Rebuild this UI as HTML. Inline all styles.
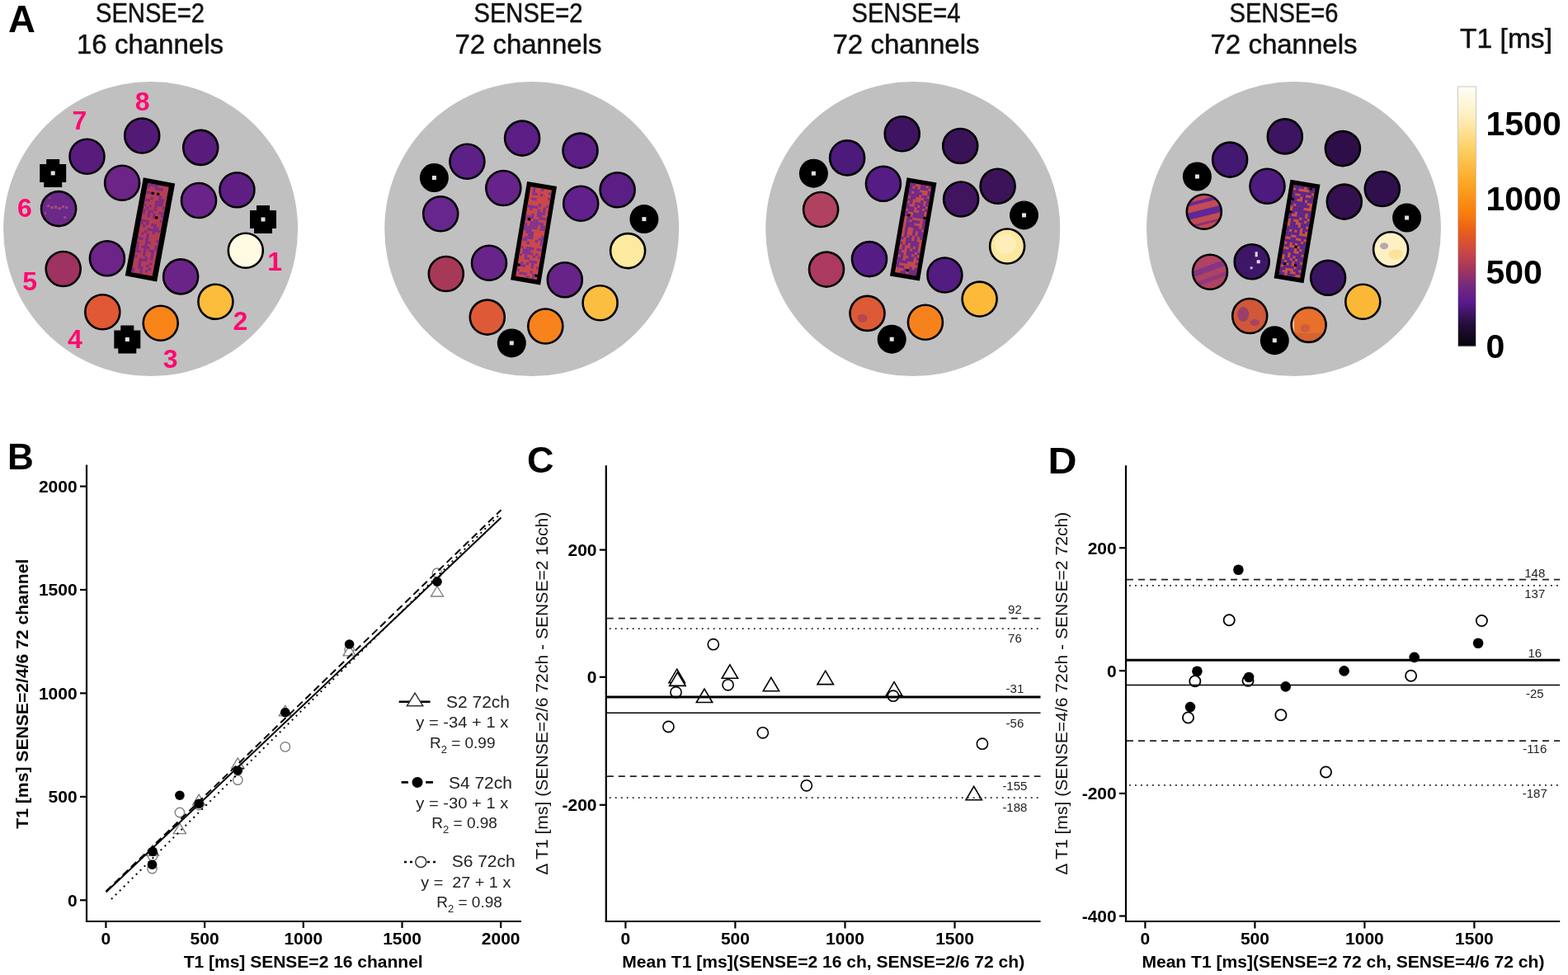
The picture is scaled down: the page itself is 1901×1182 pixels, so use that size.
<!DOCTYPE html>
<html><head><meta charset="utf-8"><title>Figure</title>
<style>html,body{margin:0;padding:0;background:#fff;}svg{display:block;}</style>
</head><body>
<svg width="1901" height="1182" viewBox="0 0 1901 1182">
<rect width="1901" height="1182" fill="#fff"/>
<circle cx="182.6" cy="277.6" r="178.5" fill="#c0c0c0"/>
<g transform="translate(182.0 278.4) rotate(10.5)"><rect x="-19.5" y="-60.5" width="39" height="121" fill="#000"/><rect x="-13" y="-55" width="26" height="110" fill="#b43e56"/><rect x="-13.00" y="-55.00" width="3.3" height="3.2" fill="#7c2c86"/><rect x="-13.00" y="-51.86" width="3.3" height="3.2" fill="#7c2c86"/><rect x="-13.00" y="-45.57" width="3.3" height="3.2" fill="#7c2c86"/><rect x="-13.00" y="-36.14" width="3.3" height="3.2" fill="#7c2c86"/><rect x="-13.00" y="-29.86" width="3.3" height="3.2" fill="#7c2c86"/><rect x="-13.00" y="-23.57" width="3.3" height="3.2" fill="#7c2c86"/><rect x="-13.00" y="-20.43" width="3.3" height="3.2" fill="#7c2c86"/><rect x="-13.00" y="-11.00" width="3.3" height="3.2" fill="#7c2c86"/><rect x="-13.00" y="-7.86" width="3.3" height="3.2" fill="#7c2c86"/><rect x="-13.00" y="11.00" width="3.3" height="3.2" fill="#7c2c86"/><rect x="-13.00" y="17.28" width="3.3" height="3.2" fill="#7c2c86"/><rect x="-13.00" y="20.43" width="3.3" height="3.2" fill="#7c2c86"/><rect x="-13.00" y="23.57" width="3.3" height="3.2" fill="#7c2c86"/><rect x="-13.00" y="26.71" width="3.3" height="3.2" fill="#7c2c86"/><rect x="-13.00" y="33.00" width="3.3" height="3.2" fill="#7c2c86"/><rect x="-13.00" y="48.71" width="3.3" height="3.2" fill="#7c2c86"/><rect x="-13.00" y="51.86" width="3.3" height="3.2" fill="#7c2c86"/><rect x="-9.75" y="-55.00" width="3.3" height="3.2" fill="#7c2c86"/><rect x="-9.75" y="-45.57" width="3.3" height="3.2" fill="#7c2c86"/><rect x="-9.75" y="-36.14" width="3.3" height="3.2" fill="#7c2c86"/><rect x="-9.75" y="-26.71" width="3.3" height="3.2" fill="#7c2c86"/><rect x="-9.75" y="-11.00" width="3.3" height="3.2" fill="#7c2c86"/><rect x="-9.75" y="-4.72" width="3.3" height="3.2" fill="#7c2c86"/><rect x="-9.75" y="4.71" width="3.3" height="3.2" fill="#7c2c86"/><rect x="-9.75" y="11.00" width="3.3" height="3.2" fill="#7c2c86"/><rect x="-9.75" y="26.71" width="3.3" height="3.2" fill="#7c2c86"/><rect x="-6.50" y="-55.00" width="3.3" height="3.2" fill="#7c2c86"/><rect x="-6.50" y="-45.57" width="3.3" height="3.2" fill="#000"/><rect x="-6.50" y="-39.29" width="3.3" height="3.2" fill="#7c2c86"/><rect x="-6.50" y="-29.86" width="3.3" height="3.2" fill="#7c2c86"/><rect x="-6.50" y="-23.57" width="3.3" height="3.2" fill="#7c2c86"/><rect x="-6.50" y="-20.43" width="3.3" height="3.2" fill="#7c2c86"/><rect x="-6.50" y="-17.29" width="3.3" height="3.2" fill="#7c2c86"/><rect x="-6.50" y="-11.00" width="3.3" height="3.2" fill="#7c2c86"/><rect x="-6.50" y="-7.86" width="3.3" height="3.2" fill="#7c2c86"/><rect x="-6.50" y="1.57" width="3.3" height="3.2" fill="#7c2c86"/><rect x="-6.50" y="20.43" width="3.3" height="3.2" fill="#7c2c86"/><rect x="-6.50" y="36.14" width="3.3" height="3.2" fill="#7c2c86"/><rect x="-6.50" y="39.28" width="3.3" height="3.2" fill="#7c2c86"/><rect x="-6.50" y="42.43" width="3.3" height="3.2" fill="#7c2c86"/><rect x="-6.50" y="45.57" width="3.3" height="3.2" fill="#7c2c86"/><rect x="-3.25" y="-55.00" width="3.3" height="3.2" fill="#7c2c86"/><rect x="-3.25" y="-51.86" width="3.3" height="3.2" fill="#7c2c86"/><rect x="-3.25" y="-23.57" width="3.3" height="3.2" fill="#7c2c86"/><rect x="-3.25" y="-1.57" width="3.3" height="3.2" fill="#7c2c86"/><rect x="-3.25" y="4.71" width="3.3" height="3.2" fill="#7c2c86"/><rect x="-3.25" y="7.86" width="3.3" height="3.2" fill="#7c2c86"/><rect x="-3.25" y="11.00" width="3.3" height="3.2" fill="#7c2c86"/><rect x="-3.25" y="14.14" width="3.3" height="3.2" fill="#7c2c86"/><rect x="-3.25" y="17.28" width="3.3" height="3.2" fill="#7c2c86"/><rect x="-3.25" y="20.43" width="3.3" height="3.2" fill="#7c2c86"/><rect x="-3.25" y="23.57" width="3.3" height="3.2" fill="#7c2c86"/><rect x="-3.25" y="26.71" width="3.3" height="3.2" fill="#7c2c86"/><rect x="-3.25" y="29.86" width="3.3" height="3.2" fill="#7c2c86"/><rect x="-3.25" y="36.14" width="3.3" height="3.2" fill="#7c2c86"/><rect x="-3.25" y="45.57" width="3.3" height="3.2" fill="#7c2c86"/><rect x="-3.25" y="48.71" width="3.3" height="3.2" fill="#7c2c86"/><rect x="-3.25" y="51.86" width="3.3" height="3.2" fill="#7c2c86"/><rect x="0.00" y="-51.86" width="3.3" height="3.2" fill="#7c2c86"/><rect x="0.00" y="-45.57" width="3.3" height="3.2" fill="#000"/><rect x="0.00" y="-36.14" width="3.3" height="3.2" fill="#7c2c86"/><rect x="0.00" y="-33.00" width="3.3" height="3.2" fill="#7c2c86"/><rect x="0.00" y="-29.86" width="3.3" height="3.2" fill="#7c2c86"/><rect x="0.00" y="-26.71" width="3.3" height="3.2" fill="#7c2c86"/><rect x="0.00" y="-20.43" width="3.3" height="3.2" fill="#7c2c86"/><rect x="0.00" y="-17.29" width="3.3" height="3.2" fill="#7c2c86"/><rect x="0.00" y="-7.86" width="3.3" height="3.2" fill="#7c2c86"/><rect x="0.00" y="-1.57" width="3.3" height="3.2" fill="#7c2c86"/><rect x="0.00" y="14.14" width="3.3" height="3.2" fill="#7c2c86"/><rect x="0.00" y="20.43" width="3.3" height="3.2" fill="#7c2c86"/><rect x="0.00" y="33.00" width="3.3" height="3.2" fill="#7c2c86"/><rect x="0.00" y="36.14" width="3.3" height="3.2" fill="#7c2c86"/><rect x="3.25" y="-51.86" width="3.3" height="3.2" fill="#7c2c86"/><rect x="3.25" y="-42.43" width="3.3" height="3.2" fill="#7c2c86"/><rect x="3.25" y="-39.29" width="3.3" height="3.2" fill="#7c2c86"/><rect x="3.25" y="-36.14" width="3.3" height="3.2" fill="#7c2c86"/><rect x="3.25" y="-33.00" width="3.3" height="3.2" fill="#7c2c86"/><rect x="3.25" y="-17.29" width="3.3" height="3.2" fill="#000"/><rect x="3.25" y="-7.86" width="3.3" height="3.2" fill="#7c2c86"/><rect x="3.25" y="-4.72" width="3.3" height="3.2" fill="#7c2c86"/><rect x="3.25" y="-1.57" width="3.3" height="3.2" fill="#7c2c86"/><rect x="3.25" y="1.57" width="3.3" height="3.2" fill="#7c2c86"/><rect x="3.25" y="23.57" width="3.3" height="3.2" fill="#7c2c86"/><rect x="3.25" y="42.43" width="3.3" height="3.2" fill="#7c2c86"/><rect x="3.25" y="48.71" width="3.3" height="3.2" fill="#7c2c86"/><rect x="6.50" y="-39.29" width="3.3" height="3.2" fill="#7c2c86"/><rect x="6.50" y="-36.14" width="3.3" height="3.2" fill="#7c2c86"/><rect x="6.50" y="-33.00" width="3.3" height="3.2" fill="#7c2c86"/><rect x="6.50" y="-23.57" width="3.3" height="3.2" fill="#7c2c86"/><rect x="6.50" y="-4.72" width="3.3" height="3.2" fill="#7c2c86"/><rect x="6.50" y="-1.57" width="3.3" height="3.2" fill="#7c2c86"/><rect x="6.50" y="23.57" width="3.3" height="3.2" fill="#7c2c86"/><rect x="6.50" y="26.71" width="3.3" height="3.2" fill="#7c2c86"/><rect x="6.50" y="29.86" width="3.3" height="3.2" fill="#7c2c86"/><rect x="6.50" y="33.00" width="3.3" height="3.2" fill="#7c2c86"/><rect x="6.50" y="39.28" width="3.3" height="3.2" fill="#7c2c86"/><rect x="6.50" y="45.57" width="3.3" height="3.2" fill="#7c2c86"/><rect x="9.75" y="-29.86" width="3.3" height="3.2" fill="#7c2c86"/><rect x="9.75" y="-23.57" width="3.3" height="3.2" fill="#7c2c86"/><rect x="9.75" y="-20.43" width="3.3" height="3.2" fill="#7c2c86"/><rect x="9.75" y="-14.14" width="3.3" height="3.2" fill="#7c2c86"/><rect x="9.75" y="-1.57" width="3.3" height="3.2" fill="#7c2c86"/><rect x="9.75" y="11.00" width="3.3" height="3.2" fill="#7c2c86"/><rect x="9.75" y="17.28" width="3.3" height="3.2" fill="#7c2c86"/><rect x="9.75" y="20.43" width="3.3" height="3.2" fill="#7c2c86"/></g>
<circle cx="172.2" cy="164.5" r="21" fill="#521a74" stroke="#000" stroke-width="2.6"/>
<circle cx="243.2" cy="178.9" r="21" fill="#581c7c" stroke="#000" stroke-width="2.6"/>
<circle cx="105.5" cy="189.8" r="21" fill="#581c7c" stroke="#000" stroke-width="2.6"/>
<circle cx="148.1" cy="221.8" r="21" fill="#6c2486" stroke="#000" stroke-width="2.6"/>
<circle cx="241" cy="243" r="21" fill="#6a2388" stroke="#000" stroke-width="2.6"/>
<circle cx="287.4" cy="230.2" r="21" fill="#5e1e84" stroke="#000" stroke-width="2.6"/>
<clipPath id="c71_253"><circle cx="71.1" cy="253.1" r="21"/></clipPath>
<circle cx="71.1" cy="253.1" r="21" fill="#6a2888"/>
<g clip-path="url(#c71_253)"><g transform="translate(71.1 253.1)"><g fill="#c45a78" opacity="0.65"><rect x="-14" y="-5" width="3" height="3"/><rect x="-10" y="-3" width="4" height="3"/><rect x="-5" y="-4" width="3" height="4"/><rect x="-1" y="-2" width="4" height="3"/><rect x="4" y="-4" width="3" height="3"/><rect x="8" y="-3" width="3" height="3"/><rect x="6" y="9" width="3" height="3"/><rect x="-12" y="-14" width="2" height="2"/><rect x="-17" y="4" width="2" height="3"/></g></g></g>
<circle cx="71.1" cy="253.1" r="21" fill="none" stroke="#000" stroke-width="2.6"/>
<circle cx="297.8" cy="303.8" r="21" fill="#fffbe2" stroke="#000" stroke-width="2.6"/>
<circle cx="76.7" cy="326" r="21" fill="#9e3260" stroke="#000" stroke-width="2.6"/>
<circle cx="129.9" cy="313.2" r="21" fill="#6c2488" stroke="#000" stroke-width="2.6"/>
<circle cx="219.1" cy="335.4" r="21" fill="#6a2488" stroke="#000" stroke-width="2.6"/>
<circle cx="261.4" cy="365.8" r="21" fill="#fcbc3c" stroke="#000" stroke-width="2.6"/>
<circle cx="124.3" cy="378.3" r="21" fill="#e05834" stroke="#000" stroke-width="2.6"/>
<circle cx="194.7" cy="391.8" r="21" fill="#f8841a" stroke="#000" stroke-width="2.6"/>
<path d="M56.2 192.9h16v6h8v22h-5v6h-22v-6h-5v-22h8z" fill="#000"/>
<rect x="61.7" y="207.4" width="5" height="5" fill="#e0e0e0"/>
<path d="M311 249h16v6h8v22h-5v6h-22v-6h-5v-22h8z" fill="#000"/>
<rect x="316.5" y="263.5" width="5" height="5" fill="#e0e0e0"/>
<path d="M146.3 394.5h16v6h8v22h-5v6h-22v-6h-5v-22h8z" fill="#000"/>
<rect x="151.8" y="409.0" width="5" height="5" fill="#e0e0e0"/>
<circle cx="644.7" cy="277.6" r="178.5" fill="#c0c0c0"/>
<g transform="translate(647.1 282.7) rotate(9.5)"><rect x="-18.25" y="-60.5" width="36.5" height="121" fill="#000"/><rect x="-13" y="-55" width="26" height="110" fill="#cc4848"/><rect x="-13.00" y="-33.00" width="3.3" height="3.2" fill="#7c3494"/><rect x="-13.00" y="-20.43" width="3.3" height="3.2" fill="#7c3494"/><rect x="-13.00" y="-17.29" width="3.3" height="3.2" fill="#7c3494"/><rect x="-13.00" y="-11.00" width="3.3" height="3.2" fill="#7c3494"/><rect x="-13.00" y="-7.86" width="3.3" height="3.2" fill="#7c3494"/><rect x="-13.00" y="-4.72" width="3.3" height="3.2" fill="#7c3494"/><rect x="-13.00" y="7.86" width="3.3" height="3.2" fill="#7c3494"/><rect x="-13.00" y="17.28" width="3.3" height="3.2" fill="#7c3494"/><rect x="-13.00" y="26.71" width="3.3" height="3.2" fill="#7c3494"/><rect x="-13.00" y="39.28" width="3.3" height="3.2" fill="#000"/><rect x="-13.00" y="45.57" width="3.3" height="3.2" fill="#7c3494"/><rect x="-9.75" y="-55.00" width="3.3" height="3.2" fill="#7c3494"/><rect x="-9.75" y="-51.86" width="3.3" height="3.2" fill="#7c3494"/><rect x="-9.75" y="-48.71" width="3.3" height="3.2" fill="#7c3494"/><rect x="-9.75" y="-42.43" width="3.3" height="3.2" fill="#7c3494"/><rect x="-9.75" y="-33.00" width="3.3" height="3.2" fill="#7c3494"/><rect x="-9.75" y="-29.86" width="3.3" height="3.2" fill="#7c3494"/><rect x="-9.75" y="-20.43" width="3.3" height="3.2" fill="#7c3494"/><rect x="-9.75" y="-17.29" width="3.3" height="3.2" fill="#000"/><rect x="-9.75" y="-7.86" width="3.3" height="3.2" fill="#7c3494"/><rect x="-9.75" y="-4.72" width="3.3" height="3.2" fill="#7c3494"/><rect x="-9.75" y="-1.57" width="3.3" height="3.2" fill="#7c3494"/><rect x="-9.75" y="4.71" width="3.3" height="3.2" fill="#7c3494"/><rect x="-9.75" y="7.86" width="3.3" height="3.2" fill="#7c3494"/><rect x="-9.75" y="20.43" width="3.3" height="3.2" fill="#7c3494"/><rect x="-9.75" y="23.57" width="3.3" height="3.2" fill="#7c3494"/><rect x="-9.75" y="36.14" width="3.3" height="3.2" fill="#7c3494"/><rect x="-9.75" y="39.28" width="3.3" height="3.2" fill="#7c3494"/><rect x="-9.75" y="48.71" width="3.3" height="3.2" fill="#7c3494"/><rect x="-6.50" y="-48.71" width="3.3" height="3.2" fill="#7c3494"/><rect x="-6.50" y="-42.43" width="3.3" height="3.2" fill="#7c3494"/><rect x="-6.50" y="-33.00" width="3.3" height="3.2" fill="#7c3494"/><rect x="-6.50" y="-23.57" width="3.3" height="3.2" fill="#7c3494"/><rect x="-6.50" y="-20.43" width="3.3" height="3.2" fill="#7c3494"/><rect x="-6.50" y="-14.14" width="3.3" height="3.2" fill="#7c3494"/><rect x="-6.50" y="-11.00" width="3.3" height="3.2" fill="#7c3494"/><rect x="-6.50" y="-7.86" width="3.3" height="3.2" fill="#7c3494"/><rect x="-6.50" y="-4.72" width="3.3" height="3.2" fill="#7c3494"/><rect x="-6.50" y="-1.57" width="3.3" height="3.2" fill="#7c3494"/><rect x="-6.50" y="1.57" width="3.3" height="3.2" fill="#7c3494"/><rect x="-6.50" y="4.71" width="3.3" height="3.2" fill="#7c3494"/><rect x="-6.50" y="11.00" width="3.3" height="3.2" fill="#7c3494"/><rect x="-6.50" y="17.28" width="3.3" height="3.2" fill="#7c3494"/><rect x="-6.50" y="20.43" width="3.3" height="3.2" fill="#7c3494"/><rect x="-6.50" y="23.57" width="3.3" height="3.2" fill="#7c3494"/><rect x="-6.50" y="26.71" width="3.3" height="3.2" fill="#7c3494"/><rect x="-6.50" y="29.86" width="3.3" height="3.2" fill="#7c3494"/><rect x="-6.50" y="39.28" width="3.3" height="3.2" fill="#7c3494"/><rect x="-6.50" y="48.71" width="3.3" height="3.2" fill="#7c3494"/><rect x="-3.25" y="-33.00" width="3.3" height="3.2" fill="#7c3494"/><rect x="-3.25" y="-17.29" width="3.3" height="3.2" fill="#7c3494"/><rect x="-3.25" y="-14.14" width="3.3" height="3.2" fill="#7c3494"/><rect x="-3.25" y="-11.00" width="3.3" height="3.2" fill="#7c3494"/><rect x="-3.25" y="-7.86" width="3.3" height="3.2" fill="#7c3494"/><rect x="-3.25" y="-1.57" width="3.3" height="3.2" fill="#7c3494"/><rect x="-3.25" y="1.57" width="3.3" height="3.2" fill="#7c3494"/><rect x="-3.25" y="4.71" width="3.3" height="3.2" fill="#7c3494"/><rect x="-3.25" y="17.28" width="3.3" height="3.2" fill="#7c3494"/><rect x="-3.25" y="20.43" width="3.3" height="3.2" fill="#7c3494"/><rect x="-3.25" y="23.57" width="3.3" height="3.2" fill="#7c3494"/><rect x="-3.25" y="29.86" width="3.3" height="3.2" fill="#7c3494"/><rect x="-3.25" y="36.14" width="3.3" height="3.2" fill="#7c3494"/><rect x="-3.25" y="48.71" width="3.3" height="3.2" fill="#7c3494"/><rect x="0.00" y="-55.00" width="3.3" height="3.2" fill="#7c3494"/><rect x="0.00" y="-48.71" width="3.3" height="3.2" fill="#7c3494"/><rect x="0.00" y="-36.14" width="3.3" height="3.2" fill="#7c3494"/><rect x="0.00" y="-29.86" width="3.3" height="3.2" fill="#7c3494"/><rect x="0.00" y="-26.71" width="3.3" height="3.2" fill="#7c3494"/><rect x="0.00" y="-23.57" width="3.3" height="3.2" fill="#7c3494"/><rect x="0.00" y="-17.29" width="3.3" height="3.2" fill="#7c3494"/><rect x="0.00" y="-14.14" width="3.3" height="3.2" fill="#7c3494"/><rect x="0.00" y="-11.00" width="3.3" height="3.2" fill="#7c3494"/><rect x="0.00" y="-7.86" width="3.3" height="3.2" fill="#7c3494"/><rect x="0.00" y="17.28" width="3.3" height="3.2" fill="#7c3494"/><rect x="0.00" y="23.57" width="3.3" height="3.2" fill="#7c3494"/><rect x="0.00" y="33.00" width="3.3" height="3.2" fill="#7c3494"/><rect x="0.00" y="51.86" width="3.3" height="3.2" fill="#7c3494"/><rect x="3.25" y="-26.71" width="3.3" height="3.2" fill="#7c3494"/><rect x="3.25" y="-23.57" width="3.3" height="3.2" fill="#7c3494"/><rect x="3.25" y="-20.43" width="3.3" height="3.2" fill="#7c3494"/><rect x="3.25" y="-14.14" width="3.3" height="3.2" fill="#7c3494"/><rect x="3.25" y="7.86" width="3.3" height="3.2" fill="#7c3494"/><rect x="3.25" y="26.71" width="3.3" height="3.2" fill="#7c3494"/><rect x="3.25" y="33.00" width="3.3" height="3.2" fill="#7c3494"/><rect x="3.25" y="36.14" width="3.3" height="3.2" fill="#7c3494"/><rect x="3.25" y="39.28" width="3.3" height="3.2" fill="#7c3494"/><rect x="3.25" y="45.57" width="3.3" height="3.2" fill="#7c3494"/><rect x="6.50" y="-33.00" width="3.3" height="3.2" fill="#7c3494"/><rect x="6.50" y="-29.86" width="3.3" height="3.2" fill="#7c3494"/><rect x="6.50" y="-26.71" width="3.3" height="3.2" fill="#7c3494"/><rect x="6.50" y="-20.43" width="3.3" height="3.2" fill="#7c3494"/><rect x="6.50" y="-14.14" width="3.3" height="3.2" fill="#7c3494"/><rect x="6.50" y="-11.00" width="3.3" height="3.2" fill="#7c3494"/><rect x="6.50" y="-7.86" width="3.3" height="3.2" fill="#7c3494"/><rect x="6.50" y="4.71" width="3.3" height="3.2" fill="#7c3494"/><rect x="6.50" y="17.28" width="3.3" height="3.2" fill="#7c3494"/><rect x="6.50" y="23.57" width="3.3" height="3.2" fill="#7c3494"/><rect x="6.50" y="33.00" width="3.3" height="3.2" fill="#7c3494"/><rect x="6.50" y="48.71" width="3.3" height="3.2" fill="#7c3494"/><rect x="6.50" y="51.86" width="3.3" height="3.2" fill="#7c3494"/><rect x="9.75" y="-51.86" width="3.3" height="3.2" fill="#7c3494"/><rect x="9.75" y="-45.57" width="3.3" height="3.2" fill="#7c3494"/><rect x="9.75" y="-36.14" width="3.3" height="3.2" fill="#7c3494"/><rect x="9.75" y="-20.43" width="3.3" height="3.2" fill="#7c3494"/><rect x="9.75" y="-11.00" width="3.3" height="3.2" fill="#7c3494"/><rect x="9.75" y="-7.86" width="3.3" height="3.2" fill="#7c3494"/><rect x="9.75" y="1.57" width="3.3" height="3.2" fill="#7c3494"/><rect x="9.75" y="4.71" width="3.3" height="3.2" fill="#7c3494"/><rect x="9.75" y="7.86" width="3.3" height="3.2" fill="#7c3494"/><rect x="9.75" y="11.00" width="3.3" height="3.2" fill="#7c3494"/><rect x="9.75" y="17.28" width="3.3" height="3.2" fill="#7c3494"/><rect x="9.75" y="26.71" width="3.3" height="3.2" fill="#7c3494"/><rect x="9.75" y="39.28" width="3.3" height="3.2" fill="#7c3494"/><rect x="9.75" y="48.71" width="3.3" height="3.2" fill="#000"/></g>
<circle cx="633.1" cy="167.6" r="21" fill="#5a1e84" stroke="#000" stroke-width="2.6"/>
<circle cx="703.5" cy="182.6" r="21" fill="#5a1e84" stroke="#000" stroke-width="2.6"/>
<circle cx="566.4" cy="195.8" r="21" fill="#5c2086" stroke="#000" stroke-width="2.6"/>
<circle cx="610.3" cy="228" r="21" fill="#66238a" stroke="#000" stroke-width="2.6"/>
<circle cx="704.2" cy="246.8" r="21" fill="#62208c" stroke="#000" stroke-width="2.6"/>
<circle cx="748.6" cy="230.2" r="21" fill="#5a1e84" stroke="#000" stroke-width="2.6"/>
<circle cx="534.2" cy="259.3" r="21" fill="#66268c" stroke="#000" stroke-width="2.6"/>
<circle cx="761.1" cy="304.1" r="21" fill="#fdeaa0" stroke="#000" stroke-width="2.6"/>
<circle cx="540.8" cy="332" r="21" fill="#a83858" stroke="#000" stroke-width="2.6"/>
<circle cx="593" cy="318.8" r="21" fill="#682488" stroke="#000" stroke-width="2.6"/>
<circle cx="684.8" cy="339.2" r="21" fill="#662488" stroke="#000" stroke-width="2.6"/>
<circle cx="727.6" cy="367.3" r="21" fill="#fcbe40" stroke="#000" stroke-width="2.6"/>
<circle cx="590.8" cy="384.6" r="21" fill="#de5a36" stroke="#000" stroke-width="2.6"/>
<circle cx="661.3" cy="395.5" r="21" fill="#f8821c" stroke="#000" stroke-width="2.6"/>
<circle cx="526.4" cy="215.5" r="17.5" fill="#000"/>
<rect x="523.9" y="213.0" width="5" height="5" fill="#e0e0e0"/>
<circle cx="780.9" cy="265.6" r="17.5" fill="#000"/>
<rect x="778.4" y="263.1" width="5" height="5" fill="#e0e0e0"/>
<circle cx="620.3" cy="415.9" r="17.5" fill="#000"/>
<rect x="617.8" y="413.4" width="5" height="5" fill="#e0e0e0"/>
<circle cx="1106.7" cy="277.6" r="178.5" fill="#c0c0c0"/>
<g transform="translate(1107.2 277.9) rotate(9.8)"><rect x="-18.25" y="-60.5" width="36.5" height="121" fill="#000"/><rect x="-13" y="-55" width="26" height="110" fill="#c24a4c"/><rect x="-13.00" y="-55.00" width="3.3" height="3.2" fill="#6c2a8c"/><rect x="-13.00" y="-51.86" width="3.3" height="3.2" fill="#6c2a8c"/><rect x="-13.00" y="-48.71" width="3.3" height="3.2" fill="#6c2a8c"/><rect x="-13.00" y="-45.57" width="3.3" height="3.2" fill="#6c2a8c"/><rect x="-13.00" y="-42.43" width="3.3" height="3.2" fill="#6c2a8c"/><rect x="-13.00" y="-36.14" width="3.3" height="3.2" fill="#6c2a8c"/><rect x="-13.00" y="-29.86" width="3.3" height="3.2" fill="#6c2a8c"/><rect x="-13.00" y="-26.71" width="3.3" height="3.2" fill="#6c2a8c"/><rect x="-13.00" y="-20.43" width="3.3" height="3.2" fill="#6c2a8c"/><rect x="-13.00" y="-17.29" width="3.3" height="3.2" fill="#6c2a8c"/><rect x="-13.00" y="11.00" width="3.3" height="3.2" fill="#6c2a8c"/><rect x="-13.00" y="17.28" width="3.3" height="3.2" fill="#6c2a8c"/><rect x="-13.00" y="26.71" width="3.3" height="3.2" fill="#6c2a8c"/><rect x="-13.00" y="29.86" width="3.3" height="3.2" fill="#6c2a8c"/><rect x="-13.00" y="36.14" width="3.3" height="3.2" fill="#6c2a8c"/><rect x="-13.00" y="39.28" width="3.3" height="3.2" fill="#6c2a8c"/><rect x="-13.00" y="42.43" width="3.3" height="3.2" fill="#6c2a8c"/><rect x="-13.00" y="45.57" width="3.3" height="3.2" fill="#6c2a8c"/><rect x="-9.75" y="-55.00" width="3.3" height="3.2" fill="#6c2a8c"/><rect x="-9.75" y="-48.71" width="3.3" height="3.2" fill="#6c2a8c"/><rect x="-9.75" y="-42.43" width="3.3" height="3.2" fill="#6c2a8c"/><rect x="-9.75" y="-39.29" width="3.3" height="3.2" fill="#6c2a8c"/><rect x="-9.75" y="-36.14" width="3.3" height="3.2" fill="#6c2a8c"/><rect x="-9.75" y="-33.00" width="3.3" height="3.2" fill="#6c2a8c"/><rect x="-9.75" y="-26.71" width="3.3" height="3.2" fill="#6c2a8c"/><rect x="-9.75" y="-23.57" width="3.3" height="3.2" fill="#6c2a8c"/><rect x="-9.75" y="-17.29" width="3.3" height="3.2" fill="#000"/><rect x="-9.75" y="-14.14" width="3.3" height="3.2" fill="#6c2a8c"/><rect x="-9.75" y="-11.00" width="3.3" height="3.2" fill="#6c2a8c"/><rect x="-9.75" y="-7.86" width="3.3" height="3.2" fill="#6c2a8c"/><rect x="-9.75" y="-4.72" width="3.3" height="3.2" fill="#6c2a8c"/><rect x="-9.75" y="-1.57" width="3.3" height="3.2" fill="#6c2a8c"/><rect x="-9.75" y="1.57" width="3.3" height="3.2" fill="#6c2a8c"/><rect x="-9.75" y="4.71" width="3.3" height="3.2" fill="#6c2a8c"/><rect x="-9.75" y="7.86" width="3.3" height="3.2" fill="#6c2a8c"/><rect x="-9.75" y="20.43" width="3.3" height="3.2" fill="#6c2a8c"/><rect x="-9.75" y="23.57" width="3.3" height="3.2" fill="#6c2a8c"/><rect x="-9.75" y="29.86" width="3.3" height="3.2" fill="#6c2a8c"/><rect x="-9.75" y="33.00" width="3.3" height="3.2" fill="#6c2a8c"/><rect x="-9.75" y="36.14" width="3.3" height="3.2" fill="#6c2a8c"/><rect x="-9.75" y="39.28" width="3.3" height="3.2" fill="#6c2a8c"/><rect x="-9.75" y="45.57" width="3.3" height="3.2" fill="#6c2a8c"/><rect x="-6.50" y="-51.86" width="3.3" height="3.2" fill="#6c2a8c"/><rect x="-6.50" y="-48.71" width="3.3" height="3.2" fill="#6c2a8c"/><rect x="-6.50" y="-45.57" width="3.3" height="3.2" fill="#6c2a8c"/><rect x="-6.50" y="-42.43" width="3.3" height="3.2" fill="#6c2a8c"/><rect x="-6.50" y="-39.29" width="3.3" height="3.2" fill="#6c2a8c"/><rect x="-6.50" y="-26.71" width="3.3" height="3.2" fill="#6c2a8c"/><rect x="-6.50" y="-23.57" width="3.3" height="3.2" fill="#6c2a8c"/><rect x="-6.50" y="-14.14" width="3.3" height="3.2" fill="#6c2a8c"/><rect x="-6.50" y="-7.86" width="3.3" height="3.2" fill="#6c2a8c"/><rect x="-6.50" y="-4.72" width="3.3" height="3.2" fill="#6c2a8c"/><rect x="-6.50" y="11.00" width="3.3" height="3.2" fill="#6c2a8c"/><rect x="-6.50" y="14.14" width="3.3" height="3.2" fill="#6c2a8c"/><rect x="-6.50" y="17.28" width="3.3" height="3.2" fill="#6c2a8c"/><rect x="-6.50" y="39.28" width="3.3" height="3.2" fill="#6c2a8c"/><rect x="-6.50" y="45.57" width="3.3" height="3.2" fill="#6c2a8c"/><rect x="-6.50" y="51.86" width="3.3" height="3.2" fill="#6c2a8c"/><rect x="-3.25" y="-48.71" width="3.3" height="3.2" fill="#6c2a8c"/><rect x="-3.25" y="-45.57" width="3.3" height="3.2" fill="#6c2a8c"/><rect x="-3.25" y="-42.43" width="3.3" height="3.2" fill="#6c2a8c"/><rect x="-3.25" y="-33.00" width="3.3" height="3.2" fill="#6c2a8c"/><rect x="-3.25" y="-29.86" width="3.3" height="3.2" fill="#6c2a8c"/><rect x="-3.25" y="-20.43" width="3.3" height="3.2" fill="#6c2a8c"/><rect x="-3.25" y="-17.29" width="3.3" height="3.2" fill="#6c2a8c"/><rect x="-3.25" y="-11.00" width="3.3" height="3.2" fill="#6c2a8c"/><rect x="-3.25" y="-7.86" width="3.3" height="3.2" fill="#6c2a8c"/><rect x="-3.25" y="-4.72" width="3.3" height="3.2" fill="#6c2a8c"/><rect x="-3.25" y="7.86" width="3.3" height="3.2" fill="#6c2a8c"/><rect x="-3.25" y="11.00" width="3.3" height="3.2" fill="#6c2a8c"/><rect x="-3.25" y="14.14" width="3.3" height="3.2" fill="#6c2a8c"/><rect x="-3.25" y="23.57" width="3.3" height="3.2" fill="#6c2a8c"/><rect x="-3.25" y="26.71" width="3.3" height="3.2" fill="#6c2a8c"/><rect x="-3.25" y="29.86" width="3.3" height="3.2" fill="#6c2a8c"/><rect x="-3.25" y="36.14" width="3.3" height="3.2" fill="#6c2a8c"/><rect x="-3.25" y="39.28" width="3.3" height="3.2" fill="#6c2a8c"/><rect x="-3.25" y="48.71" width="3.3" height="3.2" fill="#6c2a8c"/><rect x="-3.25" y="51.86" width="3.3" height="3.2" fill="#6c2a8c"/><rect x="0.00" y="-55.00" width="3.3" height="3.2" fill="#6c2a8c"/><rect x="0.00" y="-51.86" width="3.3" height="3.2" fill="#6c2a8c"/><rect x="0.00" y="-45.57" width="3.3" height="3.2" fill="#6c2a8c"/><rect x="0.00" y="-33.00" width="3.3" height="3.2" fill="#6c2a8c"/><rect x="0.00" y="-26.71" width="3.3" height="3.2" fill="#6c2a8c"/><rect x="0.00" y="-20.43" width="3.3" height="3.2" fill="#6c2a8c"/><rect x="0.00" y="-17.29" width="3.3" height="3.2" fill="#6c2a8c"/><rect x="0.00" y="-11.00" width="3.3" height="3.2" fill="#6c2a8c"/><rect x="0.00" y="-4.72" width="3.3" height="3.2" fill="#6c2a8c"/><rect x="0.00" y="-1.57" width="3.3" height="3.2" fill="#6c2a8c"/><rect x="0.00" y="1.57" width="3.3" height="3.2" fill="#6c2a8c"/><rect x="0.00" y="4.71" width="3.3" height="3.2" fill="#6c2a8c"/><rect x="0.00" y="14.14" width="3.3" height="3.2" fill="#6c2a8c"/><rect x="0.00" y="17.28" width="3.3" height="3.2" fill="#6c2a8c"/><rect x="0.00" y="20.43" width="3.3" height="3.2" fill="#6c2a8c"/><rect x="0.00" y="26.71" width="3.3" height="3.2" fill="#6c2a8c"/><rect x="0.00" y="29.86" width="3.3" height="3.2" fill="#6c2a8c"/><rect x="0.00" y="33.00" width="3.3" height="3.2" fill="#6c2a8c"/><rect x="0.00" y="36.14" width="3.3" height="3.2" fill="#6c2a8c"/><rect x="0.00" y="48.71" width="3.3" height="3.2" fill="#000"/><rect x="3.25" y="-55.00" width="3.3" height="3.2" fill="#6c2a8c"/><rect x="3.25" y="-51.86" width="3.3" height="3.2" fill="#6c2a8c"/><rect x="3.25" y="-42.43" width="3.3" height="3.2" fill="#6c2a8c"/><rect x="3.25" y="-36.14" width="3.3" height="3.2" fill="#6c2a8c"/><rect x="3.25" y="-33.00" width="3.3" height="3.2" fill="#6c2a8c"/><rect x="3.25" y="-29.86" width="3.3" height="3.2" fill="#6c2a8c"/><rect x="3.25" y="-26.71" width="3.3" height="3.2" fill="#6c2a8c"/><rect x="3.25" y="-23.57" width="3.3" height="3.2" fill="#6c2a8c"/><rect x="3.25" y="-20.43" width="3.3" height="3.2" fill="#6c2a8c"/><rect x="3.25" y="-17.29" width="3.3" height="3.2" fill="#6c2a8c"/><rect x="3.25" y="-11.00" width="3.3" height="3.2" fill="#6c2a8c"/><rect x="3.25" y="-4.72" width="3.3" height="3.2" fill="#6c2a8c"/><rect x="3.25" y="-1.57" width="3.3" height="3.2" fill="#6c2a8c"/><rect x="3.25" y="7.86" width="3.3" height="3.2" fill="#6c2a8c"/><rect x="3.25" y="11.00" width="3.3" height="3.2" fill="#6c2a8c"/><rect x="3.25" y="14.14" width="3.3" height="3.2" fill="#6c2a8c"/><rect x="3.25" y="17.28" width="3.3" height="3.2" fill="#6c2a8c"/><rect x="3.25" y="23.57" width="3.3" height="3.2" fill="#6c2a8c"/><rect x="3.25" y="26.71" width="3.3" height="3.2" fill="#6c2a8c"/><rect x="3.25" y="33.00" width="3.3" height="3.2" fill="#6c2a8c"/><rect x="3.25" y="36.14" width="3.3" height="3.2" fill="#6c2a8c"/><rect x="3.25" y="45.57" width="3.3" height="3.2" fill="#6c2a8c"/><rect x="3.25" y="48.71" width="3.3" height="3.2" fill="#6c2a8c"/><rect x="3.25" y="51.86" width="3.3" height="3.2" fill="#6c2a8c"/><rect x="6.50" y="-51.86" width="3.3" height="3.2" fill="#6c2a8c"/><rect x="6.50" y="-42.43" width="3.3" height="3.2" fill="#6c2a8c"/><rect x="6.50" y="-39.29" width="3.3" height="3.2" fill="#6c2a8c"/><rect x="6.50" y="-29.86" width="3.3" height="3.2" fill="#6c2a8c"/><rect x="6.50" y="-23.57" width="3.3" height="3.2" fill="#6c2a8c"/><rect x="6.50" y="-20.43" width="3.3" height="3.2" fill="#6c2a8c"/><rect x="6.50" y="-17.29" width="3.3" height="3.2" fill="#6c2a8c"/><rect x="6.50" y="-1.57" width="3.3" height="3.2" fill="#6c2a8c"/><rect x="6.50" y="1.57" width="3.3" height="3.2" fill="#6c2a8c"/><rect x="6.50" y="4.71" width="3.3" height="3.2" fill="#6c2a8c"/><rect x="6.50" y="14.14" width="3.3" height="3.2" fill="#6c2a8c"/><rect x="6.50" y="17.28" width="3.3" height="3.2" fill="#6c2a8c"/><rect x="6.50" y="20.43" width="3.3" height="3.2" fill="#6c2a8c"/><rect x="6.50" y="23.57" width="3.3" height="3.2" fill="#6c2a8c"/><rect x="6.50" y="29.86" width="3.3" height="3.2" fill="#6c2a8c"/><rect x="6.50" y="48.71" width="3.3" height="3.2" fill="#6c2a8c"/><rect x="6.50" y="51.86" width="3.3" height="3.2" fill="#6c2a8c"/><rect x="9.75" y="-55.00" width="3.3" height="3.2" fill="#6c2a8c"/><rect x="9.75" y="-48.71" width="3.3" height="3.2" fill="#6c2a8c"/><rect x="9.75" y="-45.57" width="3.3" height="3.2" fill="#6c2a8c"/><rect x="9.75" y="-39.29" width="3.3" height="3.2" fill="#6c2a8c"/><rect x="9.75" y="-36.14" width="3.3" height="3.2" fill="#6c2a8c"/><rect x="9.75" y="-33.00" width="3.3" height="3.2" fill="#6c2a8c"/><rect x="9.75" y="-26.71" width="3.3" height="3.2" fill="#6c2a8c"/><rect x="9.75" y="-17.29" width="3.3" height="3.2" fill="#000"/><rect x="9.75" y="-14.14" width="3.3" height="3.2" fill="#6c2a8c"/><rect x="9.75" y="-11.00" width="3.3" height="3.2" fill="#6c2a8c"/><rect x="9.75" y="-7.86" width="3.3" height="3.2" fill="#6c2a8c"/><rect x="9.75" y="-4.72" width="3.3" height="3.2" fill="#6c2a8c"/><rect x="9.75" y="1.57" width="3.3" height="3.2" fill="#6c2a8c"/><rect x="9.75" y="4.71" width="3.3" height="3.2" fill="#6c2a8c"/><rect x="9.75" y="7.86" width="3.3" height="3.2" fill="#6c2a8c"/><rect x="9.75" y="26.71" width="3.3" height="3.2" fill="#6c2a8c"/><rect x="9.75" y="33.00" width="3.3" height="3.2" fill="#6c2a8c"/><rect x="9.75" y="39.28" width="3.3" height="3.2" fill="#6c2a8c"/><rect x="9.75" y="45.57" width="3.3" height="3.2" fill="#6c2a8c"/><rect x="9.75" y="48.71" width="3.3" height="3.2" fill="#6c2a8c"/><rect x="9.75" y="51.86" width="3.3" height="3.2" fill="#6c2a8c"/></g>
<circle cx="1093.7" cy="162.3" r="21" fill="#3e1460" stroke="#000" stroke-width="2.6"/>
<circle cx="1164.2" cy="177" r="21" fill="#3a1258" stroke="#000" stroke-width="2.6"/>
<circle cx="1027.1" cy="191.4" r="21" fill="#4c1a7a" stroke="#000" stroke-width="2.6"/>
<circle cx="1070.9" cy="222.7" r="21" fill="#541c84" stroke="#000" stroke-width="2.6"/>
<circle cx="1165.1" cy="241.5" r="21" fill="#40145e" stroke="#000" stroke-width="2.6"/>
<circle cx="1209.6" cy="225.8" r="21" fill="#3c1358" stroke="#000" stroke-width="2.6"/>
<circle cx="995.1" cy="254" r="21" fill="#b04260" stroke="#000" stroke-width="2.6"/>
<clipPath id="c1221_298"><circle cx="1221.1" cy="298.5" r="21"/></clipPath>
<circle cx="1221.1" cy="298.5" r="21" fill="#fde8a0"/>
<g clip-path="url(#c1221_298)"><g transform="translate(1221.1 298.5)"><ellipse cx="-2" cy="-3" rx="13" ry="12" fill="#fff4d0" opacity="0.55"/></g></g>
<circle cx="1221.1" cy="298.5" r="21" fill="none" stroke="#000" stroke-width="2.6"/>
<circle cx="1002" cy="326.6" r="21" fill="#ac3a60" stroke="#000" stroke-width="2.6"/>
<circle cx="1054" cy="314.1" r="21" fill="#561c86" stroke="#000" stroke-width="2.6"/>
<circle cx="1145.4" cy="333.5" r="21" fill="#521c80" stroke="#000" stroke-width="2.6"/>
<circle cx="1187.6" cy="362.6" r="21" fill="#fcba38" stroke="#000" stroke-width="2.6"/>
<clipPath id="c1051_379"><circle cx="1051.5" cy="379.9" r="21"/></clipPath>
<circle cx="1051.5" cy="379.9" r="21" fill="#dc5a36"/>
<g clip-path="url(#c1051_379)"><g transform="translate(1051.5 379.9)"><ellipse cx="-6" cy="6" rx="6" ry="5" fill="#9a3a60" opacity="0.6"/></g></g>
<circle cx="1051.5" cy="379.9" r="21" fill="none" stroke="#000" stroke-width="2.6"/>
<circle cx="1121.9" cy="390.8" r="21" fill="#f6821e" stroke="#000" stroke-width="2.6"/>
<circle cx="986.4" cy="210.2" r="17.5" fill="#000"/>
<rect x="983.9" y="207.7" width="5" height="5" fill="#e0e0e0"/>
<circle cx="1241.5" cy="260.9" r="17.5" fill="#000"/>
<rect x="1239.0" y="258.4" width="5" height="5" fill="#e0e0e0"/>
<circle cx="1081.2" cy="411.2" r="17.5" fill="#000"/>
<rect x="1078.7" y="408.7" width="5" height="5" fill="#e0e0e0"/>
<circle cx="1568.5" cy="277.6" r="178.5" fill="#c0c0c0"/>
<g transform="translate(1572.5 280.5) rotate(9.5)"><rect x="-18.25" y="-60.5" width="36.5" height="121" fill="#000"/><rect x="-13" y="-55" width="26" height="110" fill="#c8543e"/><rect x="-13.00" y="-55.00" width="3.3" height="3.2" fill="#582490"/><rect x="-13.00" y="-48.71" width="3.3" height="3.2" fill="#582490"/><rect x="-13.00" y="-45.57" width="3.3" height="3.2" fill="#582490"/><rect x="-13.00" y="-42.43" width="3.3" height="3.2" fill="#582490"/><rect x="-13.00" y="-39.29" width="3.3" height="3.2" fill="#000"/><rect x="-13.00" y="-36.14" width="3.3" height="3.2" fill="#582490"/><rect x="-13.00" y="-33.00" width="3.3" height="3.2" fill="#582490"/><rect x="-13.00" y="-23.57" width="3.3" height="3.2" fill="#000"/><rect x="-13.00" y="-20.43" width="3.3" height="3.2" fill="#582490"/><rect x="-13.00" y="-17.29" width="3.3" height="3.2" fill="#582490"/><rect x="-13.00" y="-4.72" width="3.3" height="3.2" fill="#582490"/><rect x="-13.00" y="-1.57" width="3.3" height="3.2" fill="#582490"/><rect x="-13.00" y="1.57" width="3.3" height="3.2" fill="#582490"/><rect x="-13.00" y="4.71" width="3.3" height="3.2" fill="#582490"/><rect x="-13.00" y="11.00" width="3.3" height="3.2" fill="#582490"/><rect x="-13.00" y="17.28" width="3.3" height="3.2" fill="#582490"/><rect x="-13.00" y="23.57" width="3.3" height="3.2" fill="#582490"/><rect x="-13.00" y="26.71" width="3.3" height="3.2" fill="#582490"/><rect x="-13.00" y="36.14" width="3.3" height="3.2" fill="#582490"/><rect x="-13.00" y="39.28" width="3.3" height="3.2" fill="#582490"/><rect x="-13.00" y="45.57" width="3.3" height="3.2" fill="#582490"/><rect x="-13.00" y="48.71" width="3.3" height="3.2" fill="#582490"/><rect x="-13.00" y="51.86" width="3.3" height="3.2" fill="#582490"/><rect x="-9.75" y="-55.00" width="3.3" height="3.2" fill="#582490"/><rect x="-9.75" y="-51.86" width="3.3" height="3.2" fill="#582490"/><rect x="-9.75" y="-48.71" width="3.3" height="3.2" fill="#582490"/><rect x="-9.75" y="-42.43" width="3.3" height="3.2" fill="#582490"/><rect x="-9.75" y="-39.29" width="3.3" height="3.2" fill="#582490"/><rect x="-9.75" y="-36.14" width="3.3" height="3.2" fill="#582490"/><rect x="-9.75" y="-29.86" width="3.3" height="3.2" fill="#582490"/><rect x="-9.75" y="-26.71" width="3.3" height="3.2" fill="#582490"/><rect x="-9.75" y="-23.57" width="3.3" height="3.2" fill="#582490"/><rect x="-9.75" y="-17.29" width="3.3" height="3.2" fill="#582490"/><rect x="-9.75" y="-14.14" width="3.3" height="3.2" fill="#582490"/><rect x="-9.75" y="-11.00" width="3.3" height="3.2" fill="#582490"/><rect x="-9.75" y="-7.86" width="3.3" height="3.2" fill="#582490"/><rect x="-9.75" y="-4.72" width="3.3" height="3.2" fill="#582490"/><rect x="-9.75" y="1.57" width="3.3" height="3.2" fill="#582490"/><rect x="-9.75" y="4.71" width="3.3" height="3.2" fill="#582490"/><rect x="-9.75" y="11.00" width="3.3" height="3.2" fill="#582490"/><rect x="-9.75" y="14.14" width="3.3" height="3.2" fill="#582490"/><rect x="-9.75" y="17.28" width="3.3" height="3.2" fill="#582490"/><rect x="-9.75" y="23.57" width="3.3" height="3.2" fill="#582490"/><rect x="-9.75" y="26.71" width="3.3" height="3.2" fill="#582490"/><rect x="-9.75" y="29.86" width="3.3" height="3.2" fill="#582490"/><rect x="-9.75" y="33.00" width="3.3" height="3.2" fill="#582490"/><rect x="-9.75" y="39.28" width="3.3" height="3.2" fill="#000"/><rect x="-9.75" y="42.43" width="3.3" height="3.2" fill="#582490"/><rect x="-9.75" y="45.57" width="3.3" height="3.2" fill="#582490"/><rect x="-9.75" y="51.86" width="3.3" height="3.2" fill="#582490"/><rect x="-6.50" y="-55.00" width="3.3" height="3.2" fill="#582490"/><rect x="-6.50" y="-48.71" width="3.3" height="3.2" fill="#582490"/><rect x="-6.50" y="-42.43" width="3.3" height="3.2" fill="#582490"/><rect x="-6.50" y="-36.14" width="3.3" height="3.2" fill="#582490"/><rect x="-6.50" y="-33.00" width="3.3" height="3.2" fill="#582490"/><rect x="-6.50" y="-29.86" width="3.3" height="3.2" fill="#582490"/><rect x="-6.50" y="-26.71" width="3.3" height="3.2" fill="#582490"/><rect x="-6.50" y="-17.29" width="3.3" height="3.2" fill="#582490"/><rect x="-6.50" y="-11.00" width="3.3" height="3.2" fill="#582490"/><rect x="-6.50" y="-7.86" width="3.3" height="3.2" fill="#582490"/><rect x="-6.50" y="-4.72" width="3.3" height="3.2" fill="#582490"/><rect x="-6.50" y="-1.57" width="3.3" height="3.2" fill="#582490"/><rect x="-6.50" y="1.57" width="3.3" height="3.2" fill="#582490"/><rect x="-6.50" y="7.86" width="3.3" height="3.2" fill="#582490"/><rect x="-6.50" y="11.00" width="3.3" height="3.2" fill="#582490"/><rect x="-6.50" y="20.43" width="3.3" height="3.2" fill="#582490"/><rect x="-6.50" y="23.57" width="3.3" height="3.2" fill="#582490"/><rect x="-6.50" y="33.00" width="3.3" height="3.2" fill="#582490"/><rect x="-6.50" y="36.14" width="3.3" height="3.2" fill="#582490"/><rect x="-6.50" y="42.43" width="3.3" height="3.2" fill="#582490"/><rect x="-3.25" y="-55.00" width="3.3" height="3.2" fill="#582490"/><rect x="-3.25" y="-48.71" width="3.3" height="3.2" fill="#582490"/><rect x="-3.25" y="-45.57" width="3.3" height="3.2" fill="#582490"/><rect x="-3.25" y="-36.14" width="3.3" height="3.2" fill="#582490"/><rect x="-3.25" y="-33.00" width="3.3" height="3.2" fill="#582490"/><rect x="-3.25" y="-29.86" width="3.3" height="3.2" fill="#582490"/><rect x="-3.25" y="-26.71" width="3.3" height="3.2" fill="#582490"/><rect x="-3.25" y="-23.57" width="3.3" height="3.2" fill="#582490"/><rect x="-3.25" y="-20.43" width="3.3" height="3.2" fill="#582490"/><rect x="-3.25" y="-17.29" width="3.3" height="3.2" fill="#582490"/><rect x="-3.25" y="-7.86" width="3.3" height="3.2" fill="#582490"/><rect x="-3.25" y="-4.72" width="3.3" height="3.2" fill="#582490"/><rect x="-3.25" y="1.57" width="3.3" height="3.2" fill="#582490"/><rect x="-3.25" y="7.86" width="3.3" height="3.2" fill="#582490"/><rect x="-3.25" y="11.00" width="3.3" height="3.2" fill="#582490"/><rect x="-3.25" y="14.14" width="3.3" height="3.2" fill="#582490"/><rect x="-3.25" y="20.43" width="3.3" height="3.2" fill="#582490"/><rect x="-3.25" y="23.57" width="3.3" height="3.2" fill="#582490"/><rect x="-3.25" y="26.71" width="3.3" height="3.2" fill="#582490"/><rect x="-3.25" y="29.86" width="3.3" height="3.2" fill="#582490"/><rect x="-3.25" y="36.14" width="3.3" height="3.2" fill="#582490"/><rect x="-3.25" y="39.28" width="3.3" height="3.2" fill="#582490"/><rect x="-3.25" y="42.43" width="3.3" height="3.2" fill="#582490"/><rect x="-3.25" y="48.71" width="3.3" height="3.2" fill="#582490"/><rect x="-3.25" y="51.86" width="3.3" height="3.2" fill="#582490"/><rect x="0.00" y="-48.71" width="3.3" height="3.2" fill="#582490"/><rect x="0.00" y="-45.57" width="3.3" height="3.2" fill="#582490"/><rect x="0.00" y="-42.43" width="3.3" height="3.2" fill="#582490"/><rect x="0.00" y="-39.29" width="3.3" height="3.2" fill="#582490"/><rect x="0.00" y="-36.14" width="3.3" height="3.2" fill="#582490"/><rect x="0.00" y="-33.00" width="3.3" height="3.2" fill="#582490"/><rect x="0.00" y="-29.86" width="3.3" height="3.2" fill="#582490"/><rect x="0.00" y="-26.71" width="3.3" height="3.2" fill="#582490"/><rect x="0.00" y="-23.57" width="3.3" height="3.2" fill="#582490"/><rect x="0.00" y="-20.43" width="3.3" height="3.2" fill="#582490"/><rect x="0.00" y="-14.14" width="3.3" height="3.2" fill="#582490"/><rect x="0.00" y="-4.72" width="3.3" height="3.2" fill="#582490"/><rect x="0.00" y="-1.57" width="3.3" height="3.2" fill="#582490"/><rect x="0.00" y="1.57" width="3.3" height="3.2" fill="#582490"/><rect x="0.00" y="4.71" width="3.3" height="3.2" fill="#582490"/><rect x="0.00" y="11.00" width="3.3" height="3.2" fill="#582490"/><rect x="0.00" y="17.28" width="3.3" height="3.2" fill="#000"/><rect x="0.00" y="26.71" width="3.3" height="3.2" fill="#582490"/><rect x="0.00" y="33.00" width="3.3" height="3.2" fill="#582490"/><rect x="0.00" y="42.43" width="3.3" height="3.2" fill="#582490"/><rect x="0.00" y="51.86" width="3.3" height="3.2" fill="#582490"/><rect x="3.25" y="-55.00" width="3.3" height="3.2" fill="#582490"/><rect x="3.25" y="-48.71" width="3.3" height="3.2" fill="#582490"/><rect x="3.25" y="-42.43" width="3.3" height="3.2" fill="#582490"/><rect x="3.25" y="-36.14" width="3.3" height="3.2" fill="#582490"/><rect x="3.25" y="-33.00" width="3.3" height="3.2" fill="#582490"/><rect x="3.25" y="-26.71" width="3.3" height="3.2" fill="#582490"/><rect x="3.25" y="-23.57" width="3.3" height="3.2" fill="#582490"/><rect x="3.25" y="-20.43" width="3.3" height="3.2" fill="#582490"/><rect x="3.25" y="-17.29" width="3.3" height="3.2" fill="#582490"/><rect x="3.25" y="-14.14" width="3.3" height="3.2" fill="#582490"/><rect x="3.25" y="-11.00" width="3.3" height="3.2" fill="#582490"/><rect x="3.25" y="-7.86" width="3.3" height="3.2" fill="#582490"/><rect x="3.25" y="4.71" width="3.3" height="3.2" fill="#582490"/><rect x="3.25" y="11.00" width="3.3" height="3.2" fill="#582490"/><rect x="3.25" y="14.14" width="3.3" height="3.2" fill="#582490"/><rect x="3.25" y="20.43" width="3.3" height="3.2" fill="#582490"/><rect x="3.25" y="26.71" width="3.3" height="3.2" fill="#582490"/><rect x="3.25" y="29.86" width="3.3" height="3.2" fill="#582490"/><rect x="3.25" y="36.14" width="3.3" height="3.2" fill="#582490"/><rect x="3.25" y="39.28" width="3.3" height="3.2" fill="#000"/><rect x="3.25" y="45.57" width="3.3" height="3.2" fill="#582490"/><rect x="3.25" y="51.86" width="3.3" height="3.2" fill="#582490"/><rect x="6.50" y="-55.00" width="3.3" height="3.2" fill="#000"/><rect x="6.50" y="-51.86" width="3.3" height="3.2" fill="#582490"/><rect x="6.50" y="-48.71" width="3.3" height="3.2" fill="#582490"/><rect x="6.50" y="-42.43" width="3.3" height="3.2" fill="#582490"/><rect x="6.50" y="-39.29" width="3.3" height="3.2" fill="#582490"/><rect x="6.50" y="-33.00" width="3.3" height="3.2" fill="#582490"/><rect x="6.50" y="-26.71" width="3.3" height="3.2" fill="#582490"/><rect x="6.50" y="-17.29" width="3.3" height="3.2" fill="#582490"/><rect x="6.50" y="-11.00" width="3.3" height="3.2" fill="#582490"/><rect x="6.50" y="-7.86" width="3.3" height="3.2" fill="#582490"/><rect x="6.50" y="-4.72" width="3.3" height="3.2" fill="#582490"/><rect x="6.50" y="-1.57" width="3.3" height="3.2" fill="#582490"/><rect x="6.50" y="4.71" width="3.3" height="3.2" fill="#582490"/><rect x="6.50" y="7.86" width="3.3" height="3.2" fill="#582490"/><rect x="6.50" y="14.14" width="3.3" height="3.2" fill="#582490"/><rect x="6.50" y="17.28" width="3.3" height="3.2" fill="#582490"/><rect x="6.50" y="23.57" width="3.3" height="3.2" fill="#582490"/><rect x="6.50" y="26.71" width="3.3" height="3.2" fill="#582490"/><rect x="6.50" y="29.86" width="3.3" height="3.2" fill="#582490"/><rect x="6.50" y="33.00" width="3.3" height="3.2" fill="#582490"/><rect x="6.50" y="36.14" width="3.3" height="3.2" fill="#582490"/><rect x="6.50" y="39.28" width="3.3" height="3.2" fill="#582490"/><rect x="6.50" y="42.43" width="3.3" height="3.2" fill="#582490"/><rect x="6.50" y="45.57" width="3.3" height="3.2" fill="#582490"/><rect x="6.50" y="48.71" width="3.3" height="3.2" fill="#582490"/><rect x="9.75" y="-55.00" width="3.3" height="3.2" fill="#582490"/><rect x="9.75" y="-51.86" width="3.3" height="3.2" fill="#582490"/><rect x="9.75" y="-45.57" width="3.3" height="3.2" fill="#582490"/><rect x="9.75" y="-42.43" width="3.3" height="3.2" fill="#582490"/><rect x="9.75" y="-39.29" width="3.3" height="3.2" fill="#582490"/><rect x="9.75" y="-26.71" width="3.3" height="3.2" fill="#582490"/><rect x="9.75" y="-23.57" width="3.3" height="3.2" fill="#582490"/><rect x="9.75" y="-20.43" width="3.3" height="3.2" fill="#582490"/><rect x="9.75" y="-14.14" width="3.3" height="3.2" fill="#582490"/><rect x="9.75" y="-11.00" width="3.3" height="3.2" fill="#582490"/><rect x="9.75" y="-4.72" width="3.3" height="3.2" fill="#582490"/><rect x="9.75" y="4.71" width="3.3" height="3.2" fill="#582490"/><rect x="9.75" y="11.00" width="3.3" height="3.2" fill="#582490"/><rect x="9.75" y="14.14" width="3.3" height="3.2" fill="#582490"/><rect x="9.75" y="17.28" width="3.3" height="3.2" fill="#582490"/><rect x="9.75" y="20.43" width="3.3" height="3.2" fill="#582490"/><rect x="9.75" y="23.57" width="3.3" height="3.2" fill="#582490"/><rect x="9.75" y="29.86" width="3.3" height="3.2" fill="#582490"/><rect x="9.75" y="33.00" width="3.3" height="3.2" fill="#582490"/><rect x="9.75" y="39.28" width="3.3" height="3.2" fill="#582490"/><rect x="9.75" y="42.43" width="3.3" height="3.2" fill="#582490"/><rect x="9.75" y="48.71" width="3.3" height="3.2" fill="#582490"/></g>
<circle cx="1557.8" cy="165.4" r="21" fill="#3c1460" stroke="#000" stroke-width="2.6"/>
<circle cx="1627.9" cy="180.1" r="21" fill="#2e0e48" stroke="#000" stroke-width="2.6"/>
<circle cx="1491.1" cy="193.6" r="21" fill="#421870" stroke="#000" stroke-width="2.6"/>
<circle cx="1536.5" cy="225.8" r="21" fill="#4e1a7e" stroke="#000" stroke-width="2.6"/>
<circle cx="1629.8" cy="244.6" r="21" fill="#341050" stroke="#000" stroke-width="2.6"/>
<circle cx="1675.8" cy="229" r="21" fill="#30104c" stroke="#000" stroke-width="2.6"/>
<clipPath id="c1459_256"><circle cx="1459.8" cy="256.8" r="21"/></clipPath>
<circle cx="1459.8" cy="256.8" r="21" fill="#c44a54"/>
<g clip-path="url(#c1459_256)"><g transform="translate(1459.8 256.8)"><g transform="rotate(-14)"><rect x="-25" y="-15" width="50" height="4" fill="#6a2a96"/><rect x="-25" y="-3" width="50" height="8" fill="#5e2896"/><rect x="-25" y="12" width="50" height="3" fill="#8a3478"/></g></g></g>
<circle cx="1459.8" cy="256.8" r="21" fill="none" stroke="#000" stroke-width="2.6"/>
<clipPath id="c1686_302"><circle cx="1686.1" cy="302.2" r="21"/></clipPath>
<circle cx="1686.1" cy="302.2" r="21" fill="#fdf0c4"/>
<g clip-path="url(#c1686_302)"><g transform="translate(1686.1 302.2)"><ellipse cx="-8" cy="-4" rx="5" ry="4" fill="#7060a0" opacity="0.5"/><ellipse cx="6" cy="6" rx="9" ry="6" fill="#fbd880" opacity="0.6"/></g></g>
<circle cx="1686.1" cy="302.2" r="21" fill="none" stroke="#000" stroke-width="2.6"/>
<clipPath id="c1467_329"><circle cx="1467" cy="329.8" r="21"/></clipPath>
<circle cx="1467" cy="329.8" r="21" fill="#b04262"/>
<g clip-path="url(#c1467_329)"><g transform="translate(1467 329.8)"><g transform="rotate(-20)"><rect x="-25" y="-8" width="50" height="7" fill="#7a3290" opacity="0.8"/><rect x="-25" y="6" width="50" height="5" fill="#7a3290" opacity="0.6"/></g></g></g>
<circle cx="1467" cy="329.8" r="21" fill="none" stroke="#000" stroke-width="2.6"/>
<clipPath id="c1517_317"><circle cx="1517.7" cy="317.3" r="21"/></clipPath>
<circle cx="1517.7" cy="317.3" r="21" fill="#3e1668"/>
<g clip-path="url(#c1517_317)"><g transform="translate(1517.7 317.3)"><rect x="4" y="-12" width="3" height="6" fill="#e0e0f0"/><rect x="6" y="-2" width="4" height="4" fill="#e0e0f0"/><rect x="-2" y="6" width="3" height="3" fill="#c0b0e0"/></g></g>
<circle cx="1517.7" cy="317.3" r="21" fill="none" stroke="#000" stroke-width="2.6"/>
<circle cx="1610.1" cy="336.7" r="21" fill="#3a1460" stroke="#000" stroke-width="2.6"/>
<circle cx="1652.3" cy="365.8" r="21" fill="#fbb836" stroke="#000" stroke-width="2.6"/>
<clipPath id="c1515_383"><circle cx="1515.2" cy="383" r="21"/></clipPath>
<circle cx="1515.2" cy="383" r="21" fill="#d05838"/>
<g clip-path="url(#c1515_383)"><g transform="translate(1515.2 383)"><ellipse cx="-8" cy="-2" rx="7" ry="9" fill="#8a3a78" opacity="0.8"/><ellipse cx="6" cy="8" rx="6" ry="4" fill="#9a3a70" opacity="0.7"/></g></g>
<circle cx="1515.2" cy="383" r="21" fill="none" stroke="#000" stroke-width="2.6"/>
<clipPath id="c1586_393"><circle cx="1586.6" cy="393.9" r="21"/></clipPath>
<circle cx="1586.6" cy="393.9" r="21" fill="#e8702a"/>
<g clip-path="url(#c1586_393)"><g transform="translate(1586.6 393.9)"><rect x="-21" y="10" width="42" height="11" fill="#c85a3a" opacity="0.6"/><rect x="-20" y="-12" width="2.5" height="24" fill="#f0e0e0" opacity="0.7"/><ellipse cx="-4" cy="4" rx="6" ry="5" fill="#b84a50" opacity="0.5"/></g></g>
<circle cx="1586.6" cy="393.9" r="21" fill="none" stroke="#000" stroke-width="2.6"/>
<circle cx="1451.4" cy="214" r="17.5" fill="#000"/>
<rect x="1448.9" y="211.5" width="5" height="5" fill="#e0e0e0"/>
<circle cx="1705.6" cy="264" r="17.5" fill="#000"/>
<rect x="1703.1" y="261.5" width="5" height="5" fill="#e0e0e0"/>
<circle cx="1545.3" cy="412.7" r="17.5" fill="#000"/>
<rect x="1542.8" y="410.2" width="5" height="5" fill="#e0e0e0"/>
<text x="172.6" y="134.3" font-family="'Liberation Sans', Arial, sans-serif" font-weight="bold" font-size="32" fill="#ff0870" text-anchor="middle">8</text>
<text x="96.5" y="156.8" font-family="'Liberation Sans', Arial, sans-serif" font-weight="bold" font-size="32" fill="#ff0870" text-anchor="middle">7</text>
<text x="29.9" y="263.4" font-family="'Liberation Sans', Arial, sans-serif" font-weight="bold" font-size="32" fill="#ff0870" text-anchor="middle">6</text>
<text x="36.2" y="351.7" font-family="'Liberation Sans', Arial, sans-serif" font-weight="bold" font-size="32" fill="#ff0870" text-anchor="middle">5</text>
<text x="91" y="422.2" font-family="'Liberation Sans', Arial, sans-serif" font-weight="bold" font-size="32" fill="#ff0870" text-anchor="middle">4</text>
<text x="206.6" y="445.6" font-family="'Liberation Sans', Arial, sans-serif" font-weight="bold" font-size="32" fill="#ff0870" text-anchor="middle">3</text>
<text x="291.3" y="400.3" font-family="'Liberation Sans', Arial, sans-serif" font-weight="bold" font-size="32" fill="#ff0870" text-anchor="middle">2</text>
<text x="333.2" y="328.3" font-family="'Liberation Sans', Arial, sans-serif" font-weight="bold" font-size="32" fill="#ff0870" text-anchor="middle">1</text>
<text x="182" y="26.5" font-family="'Liberation Sans', Arial, sans-serif" font-size="32.5" fill="#111" stroke="#111" stroke-width="0.5" text-anchor="middle" textLength="132" lengthAdjust="spacingAndGlyphs">SENSE=2</text>
<text x="182" y="65" font-family="'Liberation Sans', Arial, sans-serif" font-size="32.5" fill="#111" stroke="#111" stroke-width="0.5" text-anchor="middle" textLength="178" lengthAdjust="spacingAndGlyphs">16 channels</text>
<text x="640.5" y="26.5" font-family="'Liberation Sans', Arial, sans-serif" font-size="32.5" fill="#111" stroke="#111" stroke-width="0.5" text-anchor="middle" textLength="132" lengthAdjust="spacingAndGlyphs">SENSE=2</text>
<text x="640.5" y="65" font-family="'Liberation Sans', Arial, sans-serif" font-size="32.5" fill="#111" stroke="#111" stroke-width="0.5" text-anchor="middle" textLength="178" lengthAdjust="spacingAndGlyphs">72 channels</text>
<text x="1098.5" y="26.5" font-family="'Liberation Sans', Arial, sans-serif" font-size="32.5" fill="#111" stroke="#111" stroke-width="0.5" text-anchor="middle" textLength="132" lengthAdjust="spacingAndGlyphs">SENSE=4</text>
<text x="1098.5" y="65" font-family="'Liberation Sans', Arial, sans-serif" font-size="32.5" fill="#111" stroke="#111" stroke-width="0.5" text-anchor="middle" textLength="178" lengthAdjust="spacingAndGlyphs">72 channels</text>
<text x="1556.5" y="26.5" font-family="'Liberation Sans', Arial, sans-serif" font-size="32.5" fill="#111" stroke="#111" stroke-width="0.5" text-anchor="middle" textLength="132" lengthAdjust="spacingAndGlyphs">SENSE=6</text>
<text x="1556.5" y="65" font-family="'Liberation Sans', Arial, sans-serif" font-size="32.5" fill="#111" stroke="#111" stroke-width="0.5" text-anchor="middle" textLength="178" lengthAdjust="spacingAndGlyphs">72 channels</text>
<text x="1826" y="57.7" font-family="'Liberation Sans', Arial, sans-serif" font-size="32.5" fill="#111" stroke="#111" stroke-width="0.5" text-anchor="middle" textLength="112" lengthAdjust="spacingAndGlyphs">T1 [ms]</text>
<defs><linearGradient id="cb" x1="0" y1="1" x2="0" y2="0"><stop offset="0" stop-color="#050308"/><stop offset="0.09" stop-color="#26103e"/><stop offset="0.17" stop-color="#5a1a8e"/><stop offset="0.23" stop-color="#74287e"/><stop offset="0.30" stop-color="#a4365e"/><stop offset="0.37" stop-color="#cc4844"/><stop offset="0.45" stop-color="#ec6018"/><stop offset="0.51" stop-color="#f87c0c"/><stop offset="0.62" stop-color="#fba420"/><stop offset="0.76" stop-color="#fdd062"/><stop offset="0.89" stop-color="#fff0c2"/><stop offset="1" stop-color="#fffdf8"/></linearGradient></defs>
<rect x="1767.5" y="105" width="22" height="315" fill="url(#cb)" stroke="#c8c8c8" stroke-width="1"/>
<text x="1801.5" y="164.3" font-family="'Liberation Sans', Arial, sans-serif" font-weight="bold" font-size="41" fill="#000">1500</text>
<text x="1801.5" y="254.5" font-family="'Liberation Sans', Arial, sans-serif" font-weight="bold" font-size="41" fill="#000">1000</text>
<text x="1801.5" y="344.3" font-family="'Liberation Sans', Arial, sans-serif" font-weight="bold" font-size="41" fill="#000">500</text>
<text x="1801.5" y="434.2" font-family="'Liberation Sans', Arial, sans-serif" font-weight="bold" font-size="41" fill="#000">0</text>
<text x="10" y="39.1" font-family="'Liberation Sans', Arial, sans-serif" font-weight="bold" font-size="45.5" fill="#000">A</text>
<text x="9" y="568.6" font-family="'Liberation Sans', Arial, sans-serif" font-weight="bold" font-size="44" fill="#000">B</text>
<text x="639" y="573" font-family="'Liberation Sans', Arial, sans-serif" font-weight="bold" font-size="45" fill="#000">C</text>
<text x="1270.5" y="574" font-family="'Liberation Sans', Arial, sans-serif" font-weight="bold" font-size="45" fill="#000" textLength="35" lengthAdjust="spacingAndGlyphs">D</text>
<line x1="105" y1="563.5" x2="105" y2="1118" stroke="#000" stroke-width="2.2"/>
<line x1="104" y1="1117" x2="632" y2="1117" stroke="#000" stroke-width="2.2"/>
<line x1="97" y1="1091.3" x2="105" y2="1091.3" stroke="#000" stroke-width="2.2"/>
<text x="93.6" y="1098.7" font-family="'Liberation Sans', Arial, sans-serif" font-weight="bold" font-size="21" fill="#000" text-anchor="end" >0</text>
<line x1="128.4" y1="1117" x2="128.4" y2="1125" stroke="#000" stroke-width="2.2"/>
<text x="128.4" y="1145.3" font-family="'Liberation Sans', Arial, sans-serif" font-weight="bold" font-size="21" fill="#000" text-anchor="middle" >0</text>
<line x1="97" y1="965.9" x2="105" y2="965.9" stroke="#000" stroke-width="2.2"/>
<text x="93.6" y="973.275" font-family="'Liberation Sans', Arial, sans-serif" font-weight="bold" font-size="21" fill="#000" text-anchor="end" >500</text>
<line x1="248.1" y1="1117" x2="248.1" y2="1125" stroke="#000" stroke-width="2.2"/>
<text x="248.10000000000002" y="1145.3" font-family="'Liberation Sans', Arial, sans-serif" font-weight="bold" font-size="21" fill="#000" text-anchor="middle" >500</text>
<line x1="97" y1="840.4" x2="105" y2="840.4" stroke="#000" stroke-width="2.2"/>
<text x="93.6" y="847.8499999999999" font-family="'Liberation Sans', Arial, sans-serif" font-weight="bold" font-size="21" fill="#000" text-anchor="end" >1000</text>
<line x1="367.8" y1="1117" x2="367.8" y2="1125" stroke="#000" stroke-width="2.2"/>
<text x="367.8" y="1145.3" font-family="'Liberation Sans', Arial, sans-serif" font-weight="bold" font-size="21" fill="#000" text-anchor="middle" >1000</text>
<line x1="97" y1="715.0" x2="105" y2="715.0" stroke="#000" stroke-width="2.2"/>
<text x="93.6" y="722.4249999999998" font-family="'Liberation Sans', Arial, sans-serif" font-weight="bold" font-size="21" fill="#000" text-anchor="end" >1500</text>
<line x1="487.5" y1="1117" x2="487.5" y2="1125" stroke="#000" stroke-width="2.2"/>
<text x="487.5" y="1145.3" font-family="'Liberation Sans', Arial, sans-serif" font-weight="bold" font-size="21" fill="#000" text-anchor="middle" >1500</text>
<line x1="97" y1="589.6" x2="105" y2="589.6" stroke="#000" stroke-width="2.2"/>
<text x="93.6" y="596.9999999999999" font-family="'Liberation Sans', Arial, sans-serif" font-weight="bold" font-size="21" fill="#000" text-anchor="end" >2000</text>
<line x1="607.2" y1="1117" x2="607.2" y2="1125" stroke="#000" stroke-width="2.2"/>
<text x="607.2" y="1145.3" font-family="'Liberation Sans', Arial, sans-serif" font-weight="bold" font-size="21" fill="#000" text-anchor="middle" >2000</text>
<text x="367.7" y="1173.1" font-family="'Liberation Sans', Arial, sans-serif" font-weight="bold" font-size="21" fill="#000" text-anchor="middle" textLength="290" lengthAdjust="spacingAndGlyphs">T1 [ms] SENSE=2 16 channel</text>
<text x="0" y="0" font-family="'Liberation Sans', Arial, sans-serif" font-weight="bold" font-size="21" fill="#000" text-anchor="middle" transform="translate(34 841.2) rotate(-90)" textLength="327" lengthAdjust="spacingAndGlyphs">T1 [ms] SENSE=2/4/6 72 channel</text>
<circle cx="345.8" cy="905.4" r="5.7" fill="#fff" stroke="#808080" stroke-width="1.4"/>
<circle cx="288.3" cy="945.6" r="5.7" fill="#fff" stroke="#808080" stroke-width="1.4"/>
<circle cx="217.9" cy="985" r="5.7" fill="#fff" stroke="#808080" stroke-width="1.4"/>
<circle cx="241.1" cy="976" r="5.7" fill="#fff" stroke="#808080" stroke-width="1.4"/>
<circle cx="185.1" cy="1037.8" r="5.7" fill="#fff" stroke="#808080" stroke-width="1.4"/>
<circle cx="184.5" cy="1053.1" r="5.7" fill="#fff" stroke="#808080" stroke-width="1.4"/>
<circle cx="530" cy="694.7" r="5.7" fill="#fff" stroke="#808080" stroke-width="1.4"/>
<circle cx="423.6" cy="787.8" r="5.7" fill="#fff" stroke="#808080" stroke-width="1.4"/>
<path d="M345.8 855.4L353.3 867.9L338.3 867.9Z" fill="#fff" stroke="#808080" stroke-width="1.4" stroke-linejoin="miter"/>
<path d="M288.3 918.9L295.8 931.4L280.8 931.4Z" fill="#fff" stroke="#808080" stroke-width="1.4" stroke-linejoin="miter"/>
<path d="M241.1 963.2L248.6 975.8L233.6 975.8Z" fill="#fff" stroke="#808080" stroke-width="1.4" stroke-linejoin="miter"/>
<path d="M217.9 998.1L225.4 1010.6L210.4 1010.6Z" fill="#fff" stroke="#808080" stroke-width="1.4" stroke-linejoin="miter"/>
<path d="M185.1 1024.7L192.6 1037.2L177.6 1037.2Z" fill="#fff" stroke="#808080" stroke-width="1.4" stroke-linejoin="miter"/>
<path d="M530.0 710.5L537.5 723.0L522.5 723.0Z" fill="#fff" stroke="#808080" stroke-width="1.4" stroke-linejoin="miter"/>
<path d="M423.6 782.4L431.1 794.9L416.1 794.9Z" fill="#fff" stroke="#808080" stroke-width="1.4" stroke-linejoin="miter"/>
<circle cx="345.8" cy="863.7" r="5.8" fill="#000"/>
<circle cx="288.3" cy="934.2" r="5.8" fill="#000"/>
<circle cx="217.9" cy="964.2" r="5.8" fill="#000"/>
<circle cx="241.1" cy="974.4" r="5.8" fill="#000"/>
<circle cx="185.1" cy="1032.3" r="5.8" fill="#000"/>
<circle cx="184.5" cy="1048.2" r="5.8" fill="#000"/>
<circle cx="530" cy="705.2" r="5.8" fill="#000"/>
<circle cx="423.6" cy="781" r="5.8" fill="#000"/>
<line x1="128.6" y1="1081.6" x2="607.5" y2="627.6" stroke="#000" stroke-width="2"/>
<line x1="128.6" y1="1080.5" x2="607.5" y2="618.3" stroke="#000" stroke-width="2" stroke-dasharray="9 5"/>
<line x1="135" y1="1090" x2="607.5" y2="622" stroke="#000" stroke-width="2" stroke-dasharray="2 5"/>
<line x1="483.7" y1="850.8" x2="521.6" y2="850.8" stroke="#000" stroke-width="2.6"/>
<path d="M503.1 840.2L512.8 855.8L493.4 855.8Z" fill="#fff" stroke="#333" stroke-width="1.5" stroke-linejoin="miter"/>
<path d="M486.6 948.4H495M516.2 948.4H525" stroke="#000" stroke-width="2.6"/>
<circle cx="506" cy="948.4" r="6.5" fill="#000"/>
<line x1="490" y1="1045" x2="528" y2="1045" stroke="#000" stroke-width="2.6" stroke-dasharray="3 4"/>
<circle cx="510.3" cy="1045" r="6.5" fill="#fff" stroke="#333" stroke-width="1.5"/>
<text x="541" y="858.4" font-family="'Liberation Sans', Arial, sans-serif" fill="#222" font-size="20.5" textLength="77" lengthAdjust="spacingAndGlyphs">S2 72ch</text>
<text x="543.9" y="955.5" font-family="'Liberation Sans', Arial, sans-serif" fill="#222" font-size="20.5" textLength="77" lengthAdjust="spacingAndGlyphs">S4 72ch</text>
<text x="547.7" y="1051.4" font-family="'Liberation Sans', Arial, sans-serif" fill="#222" font-size="20.5" textLength="77" lengthAdjust="spacingAndGlyphs">S6 72ch</text>
<text x="504.3" y="882" font-family="'Liberation Sans', Arial, sans-serif" fill="#222" font-size="19" xml:space="preserve" textLength="112" lengthAdjust="spacingAndGlyphs">y = -34 + 1 x</text>
<text x="504.3" y="979.7" font-family="'Liberation Sans', Arial, sans-serif" fill="#222" font-size="19" xml:space="preserve" textLength="112" lengthAdjust="spacingAndGlyphs">y = -30 + 1 x</text>
<text x="510.3" y="1076.2" font-family="'Liberation Sans', Arial, sans-serif" fill="#222" font-size="19" xml:space="preserve" textLength="109" lengthAdjust="spacingAndGlyphs">y =  27 + 1 x</text>
<text x="520.9" y="907" font-family="'Liberation Sans', Arial, sans-serif" fill="#222" font-size="19">R<tspan font-size="13" dy="6">2</tspan><tspan dy="-6"> = 0.99</tspan></text>
<text x="523.3" y="1004" font-family="'Liberation Sans', Arial, sans-serif" fill="#222" font-size="19">R<tspan font-size="13" dy="6">2</tspan><tspan dy="-6"> = 0.98</tspan></text>
<text x="529.2" y="1100" font-family="'Liberation Sans', Arial, sans-serif" fill="#222" font-size="19">R<tspan font-size="13" dy="6">2</tspan><tspan dy="-6"> = 0.98</tspan></text>
<line x1="734.8" y1="564.2" x2="734.8" y2="1118" stroke="#000" stroke-width="2.2"/>
<line x1="733.8" y1="1117" x2="1261.5" y2="1117" stroke="#000" stroke-width="2.2"/>
<line x1="726.8" y1="666.6" x2="734.8" y2="666.6" stroke="#000" stroke-width="2.2"/>
<text x="723.5" y="674.0" font-family="'Liberation Sans', Arial, sans-serif" font-weight="bold" font-size="21" fill="#000" text-anchor="end" >200</text>
<line x1="726.8" y1="820.8" x2="734.8" y2="820.8" stroke="#000" stroke-width="2.2"/>
<text x="723.5" y="828.1999999999999" font-family="'Liberation Sans', Arial, sans-serif" font-weight="bold" font-size="21" fill="#000" text-anchor="end" >0</text>
<line x1="726.8" y1="975.8" x2="734.8" y2="975.8" stroke="#000" stroke-width="2.2"/>
<text x="723.5" y="983.1999999999999" font-family="'Liberation Sans', Arial, sans-serif" font-weight="bold" font-size="21" fill="#000" text-anchor="end" >-200</text>
<line x1="758.4" y1="1117" x2="758.4" y2="1125.5" stroke="#000" stroke-width="2.2"/>
<text x="758.4" y="1145" font-family="'Liberation Sans', Arial, sans-serif" font-weight="bold" font-size="21" fill="#000" text-anchor="middle" >0</text>
<line x1="891.4" y1="1117" x2="891.4" y2="1125.5" stroke="#000" stroke-width="2.2"/>
<text x="891.435" y="1145" font-family="'Liberation Sans', Arial, sans-serif" font-weight="bold" font-size="21" fill="#000" text-anchor="middle" >500</text>
<line x1="1024.5" y1="1117" x2="1024.5" y2="1125.5" stroke="#000" stroke-width="2.2"/>
<text x="1024.47" y="1145" font-family="'Liberation Sans', Arial, sans-serif" font-weight="bold" font-size="21" fill="#000" text-anchor="middle" >1000</text>
<line x1="1157.5" y1="1117" x2="1157.5" y2="1125.5" stroke="#000" stroke-width="2.2"/>
<text x="1157.5049999999999" y="1145" font-family="'Liberation Sans', Arial, sans-serif" font-weight="bold" font-size="21" fill="#000" text-anchor="middle" >1500</text>
<text x="998.2" y="1173.1" font-family="'Liberation Sans', Arial, sans-serif" font-weight="bold" font-size="21" fill="#000" text-anchor="middle" textLength="488" lengthAdjust="spacingAndGlyphs">Mean T1 [ms](SENSE=2 16 ch, SENSE=2/6 72 ch)</text>
<text font-family="'Liberation Sans', Arial, sans-serif" font-size="21" fill="#111" text-anchor="middle" transform="translate(664 840.8) rotate(-90)" textLength="440" lengthAdjust="spacingAndGlyphs">Δ T1 [ms] (SENSE=2/6 72ch - SENSE=2 16ch)</text>
<path d="M820.7 811.2L830.4 827.6L811.0 827.6Z" fill="#fff" stroke="#000" stroke-width="1.6" stroke-linejoin="miter"/>
<path d="M821.4 815.0L831.1 831.4L811.7 831.4Z" fill="#fff" stroke="#000" stroke-width="1.6" stroke-linejoin="miter"/>
<path d="M854.0 835.1L863.7 851.5L844.3 851.5Z" fill="#fff" stroke="#000" stroke-width="1.6" stroke-linejoin="miter"/>
<path d="M884.9 805.9L894.6 822.3L875.2 822.3Z" fill="#fff" stroke="#000" stroke-width="1.6" stroke-linejoin="miter"/>
<path d="M934.9 821.4L944.6 837.8L925.2 837.8Z" fill="#fff" stroke="#000" stroke-width="1.6" stroke-linejoin="miter"/>
<path d="M1000.7 813.2L1010.4 829.6L991.0 829.6Z" fill="#fff" stroke="#000" stroke-width="1.6" stroke-linejoin="miter"/>
<path d="M1084.0 826.7L1093.7 843.1L1074.3 843.1Z" fill="#fff" stroke="#000" stroke-width="1.6" stroke-linejoin="miter"/>
<path d="M1180.7 953.4L1190.4 969.8L1171.0 969.8Z" fill="#fff" stroke="#000" stroke-width="1.6" stroke-linejoin="miter"/>
<circle cx="864.8" cy="781.2" r="6.6" fill="#fff" stroke="#000" stroke-width="1.6"/>
<circle cx="819.5" cy="839.2" r="6.6" fill="#fff" stroke="#000" stroke-width="1.6"/>
<circle cx="882.6" cy="830.3" r="6.6" fill="#fff" stroke="#000" stroke-width="1.6"/>
<circle cx="810.4" cy="881" r="6.6" fill="#fff" stroke="#000" stroke-width="1.6"/>
<circle cx="924.8" cy="888.3" r="6.6" fill="#fff" stroke="#000" stroke-width="1.6"/>
<circle cx="977.8" cy="952.3" r="6.6" fill="#fff" stroke="#000" stroke-width="1.6"/>
<circle cx="1082.9" cy="843.7" r="6.6" fill="#fff" stroke="#000" stroke-width="1.6"/>
<circle cx="1190.9" cy="901.7" r="6.6" fill="#fff" stroke="#000" stroke-width="1.6"/>
<line x1="735.8" y1="749.7" x2="1261.5" y2="749.7" stroke="#222" stroke-width="1.8" stroke-dasharray="8 6"/>
<line x1="738.8" y1="762.2" x2="1261.5" y2="762.2" stroke="#222" stroke-width="1.8" stroke-dasharray="1.8 5.2"/>
<line x1="734.8" y1="845.1" x2="1261.5" y2="845.1" stroke="#000" stroke-width="3"/>
<line x1="734.8" y1="864.2" x2="1261.5" y2="864.2" stroke="#000" stroke-width="1.5"/>
<line x1="735.8" y1="941.1" x2="1261.5" y2="941.1" stroke="#222" stroke-width="1.8" stroke-dasharray="8 6"/>
<line x1="738.8" y1="967.1" x2="1261.5" y2="967.1" stroke="#222" stroke-width="1.8" stroke-dasharray="1.8 5.2"/>
<text x="1230.4" y="744.2" font-family="'Liberation Sans', Arial, sans-serif" font-size="15" fill="#222" text-anchor="middle">92</text>
<text x="1230.4" y="779.2" font-family="'Liberation Sans', Arial, sans-serif" font-size="15" fill="#222" text-anchor="middle">76</text>
<text x="1230.4" y="839.6" font-family="'Liberation Sans', Arial, sans-serif" font-size="15" fill="#222" text-anchor="middle">-31</text>
<text x="1230.4" y="882.3" font-family="'Liberation Sans', Arial, sans-serif" font-size="15" fill="#222" text-anchor="middle">-56</text>
<text x="1230.4" y="957.6" font-family="'Liberation Sans', Arial, sans-serif" font-size="15" fill="#222" text-anchor="middle">-155</text>
<text x="1230.4" y="983.7" font-family="'Liberation Sans', Arial, sans-serif" font-size="15" fill="#222" text-anchor="middle">-188</text>
<line x1="1365" y1="564.2" x2="1365" y2="1118" stroke="#000" stroke-width="2.2"/>
<line x1="1364" y1="1117" x2="1891.2" y2="1117" stroke="#000" stroke-width="2.2"/>
<line x1="1357" y1="664.2" x2="1365" y2="664.2" stroke="#000" stroke-width="2.2"/>
<text x="1353.7" y="671.6" font-family="'Liberation Sans', Arial, sans-serif" font-weight="bold" font-size="21" fill="#000" text-anchor="end" >200</text>
<line x1="1357" y1="813.2" x2="1365" y2="813.2" stroke="#000" stroke-width="2.2"/>
<text x="1353.7" y="820.6" font-family="'Liberation Sans', Arial, sans-serif" font-weight="bold" font-size="21" fill="#000" text-anchor="end" >0</text>
<line x1="1357" y1="961.9" x2="1365" y2="961.9" stroke="#000" stroke-width="2.2"/>
<text x="1353.7" y="969.3" font-family="'Liberation Sans', Arial, sans-serif" font-weight="bold" font-size="21" fill="#000" text-anchor="end" >-200</text>
<line x1="1357" y1="1110.5" x2="1365" y2="1110.5" stroke="#000" stroke-width="2.2"/>
<text x="1353.7" y="1117.9" font-family="'Liberation Sans', Arial, sans-serif" font-weight="bold" font-size="21" fill="#000" text-anchor="end" >-400</text>
<line x1="1388.4" y1="1117" x2="1388.4" y2="1125.5" stroke="#000" stroke-width="2.2"/>
<text x="1388.4" y="1145" font-family="'Liberation Sans', Arial, sans-serif" font-weight="bold" font-size="21" fill="#000" text-anchor="middle" >0</text>
<line x1="1521.4" y1="1117" x2="1521.4" y2="1125.5" stroke="#000" stroke-width="2.2"/>
<text x="1521.4" y="1145" font-family="'Liberation Sans', Arial, sans-serif" font-weight="bold" font-size="21" fill="#000" text-anchor="middle" >500</text>
<line x1="1654.4" y1="1117" x2="1654.4" y2="1125.5" stroke="#000" stroke-width="2.2"/>
<text x="1654.4" y="1145" font-family="'Liberation Sans', Arial, sans-serif" font-weight="bold" font-size="21" fill="#000" text-anchor="middle" >1000</text>
<line x1="1787.4" y1="1117" x2="1787.4" y2="1125.5" stroke="#000" stroke-width="2.2"/>
<text x="1787.4" y="1145" font-family="'Liberation Sans', Arial, sans-serif" font-weight="bold" font-size="21" fill="#000" text-anchor="middle" >1500</text>
<text x="1628.4" y="1173.1" font-family="'Liberation Sans', Arial, sans-serif" font-weight="bold" font-size="21" fill="#000" text-anchor="middle" textLength="488" lengthAdjust="spacingAndGlyphs">Mean T1 [ms](SENSE=2 72 ch, SENSE=4/6 72 ch)</text>
<text font-family="'Liberation Sans', Arial, sans-serif" font-size="21" fill="#111" text-anchor="middle" transform="translate(1294 840.8) rotate(-90)" textLength="440" lengthAdjust="spacingAndGlyphs">Δ T1 [ms] (SENSE=4/6 72ch - SENSE=2 72ch)</text>
<circle cx="1490.2" cy="751.7" r="6.6" fill="#fff" stroke="#000" stroke-width="1.8"/>
<circle cx="1448.8" cy="825.8" r="6.6" fill="#fff" stroke="#000" stroke-width="1.8"/>
<circle cx="1513" cy="825.3" r="6.6" fill="#fff" stroke="#000" stroke-width="1.8"/>
<circle cx="1552.9" cy="866.7" r="6.6" fill="#fff" stroke="#000" stroke-width="1.8"/>
<circle cx="1607.5" cy="936" r="6.6" fill="#fff" stroke="#000" stroke-width="1.8"/>
<circle cx="1710.6" cy="819.3" r="6.6" fill="#fff" stroke="#000" stroke-width="1.8"/>
<circle cx="1796.4" cy="752.5" r="6.6" fill="#fff" stroke="#000" stroke-width="1.8"/>
<circle cx="1440.5" cy="870" r="6.6" fill="#fff" stroke="#000" stroke-width="1.8"/>
<circle cx="1501.4" cy="690.8" r="6.3" fill="#000"/>
<circle cx="1451.4" cy="813.7" r="6.3" fill="#000"/>
<circle cx="1514.1" cy="821" r="6.3" fill="#000"/>
<circle cx="1558.7" cy="832.4" r="6.3" fill="#000"/>
<circle cx="1629.6" cy="813.4" r="6.3" fill="#000"/>
<circle cx="1443" cy="857.1" r="6.3" fill="#000"/>
<circle cx="1714.7" cy="796.9" r="6.3" fill="#000"/>
<circle cx="1792.1" cy="779.7" r="6.3" fill="#000"/>
<line x1="1366" y1="702.6" x2="1891.2" y2="702.6" stroke="#222" stroke-width="1.8" stroke-dasharray="8 6"/>
<line x1="1369" y1="709.8" x2="1891.2" y2="709.8" stroke="#222" stroke-width="1.8" stroke-dasharray="1.8 5.2"/>
<line x1="1365" y1="800.2" x2="1891.2" y2="800.2" stroke="#000" stroke-width="3"/>
<line x1="1365" y1="830.5" x2="1891.2" y2="830.5" stroke="#000" stroke-width="1.5"/>
<line x1="1366" y1="898.2" x2="1891.2" y2="898.2" stroke="#222" stroke-width="1.8" stroke-dasharray="8 6"/>
<line x1="1369" y1="951.8" x2="1891.2" y2="951.8" stroke="#222" stroke-width="1.8" stroke-dasharray="1.8 5.2"/>
<text x="1860.8" y="700" font-family="'Liberation Sans', Arial, sans-serif" font-size="15" fill="#222" text-anchor="middle">148</text>
<text x="1860.8" y="725.1" font-family="'Liberation Sans', Arial, sans-serif" font-size="15" fill="#222" text-anchor="middle">137</text>
<text x="1860.8" y="796.9" font-family="'Liberation Sans', Arial, sans-serif" font-size="15" fill="#222" text-anchor="middle">16</text>
<text x="1860.8" y="845.6" font-family="'Liberation Sans', Arial, sans-serif" font-size="15" fill="#222" text-anchor="middle">-25</text>
<text x="1860.8" y="913.2" font-family="'Liberation Sans', Arial, sans-serif" font-size="15" fill="#222" text-anchor="middle">-116</text>
<text x="1860.8" y="966.5" font-family="'Liberation Sans', Arial, sans-serif" font-size="15" fill="#222" text-anchor="middle">-187</text>
</svg>
</body></html>
